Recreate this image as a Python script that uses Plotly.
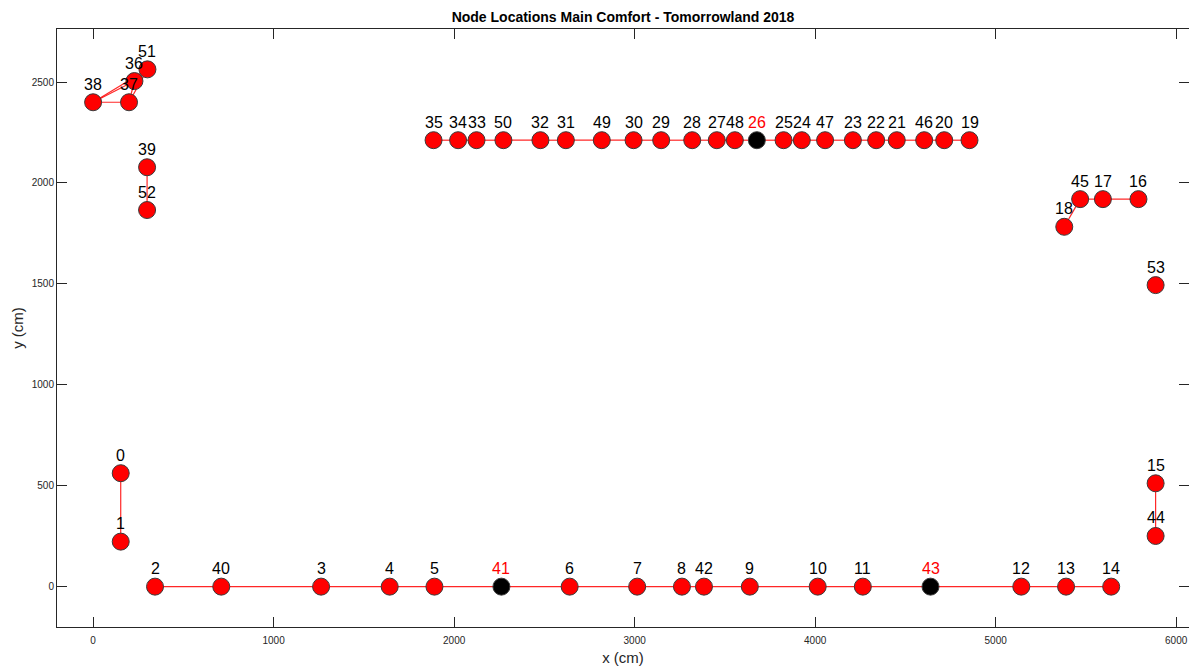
import plotly.graph_objects as go

# Node ids and their coordinates (cm)
node_ids = list(range(54))
node_x = [153, 153, 343, 1263, 1643, 1891, 2640, 3014, 3262, 3638,
          4014, 4264, 5142, 5390, 5640, 5886, 5791, 5594, 5380, 4855,
          4715, 4452, 4338, 4209, 3926, 3825, 3677, 3455, 3319, 3147,
          2994, 2619, 2478, 2124, 2022, 1886, 229, 199, 0, 299,
          710, 2262, 3384, 4639, 5886, 5468, 4604, 4055, 3555, 2818,
          2273, 301, 299, 5886]
node_y = [562, 223, 0, 0, 0, 0, 0, 0, 0, 0,
          0, 0, 0, 0, 0, 512, 1920, 1920, 1783, 2212,
          2212, 2212, 2212, 2212, 2212, 2212, 2212, 2212, 2212, 2212,
          2212, 2212, 2212, 2212, 2212, 2212, 2505, 2400, 2400, 2078,
          0, 0, 0, 0, 251, 1920, 2212, 2212, 2212, 2212,
          2212, 2563, 1866, 1494]

# special (black) nodes
special_nodes = [26, 41, 43]

# connections
bottom_chain = [2, 40, 3, 4, 5, 41, 6, 7, 8, 42, 9, 10, 11, 43, 12, 13, 14]
top_chain = [35, 34, 33, 50, 32, 31, 49, 30, 29, 28, 27, 48, 26, 25, 24, 47,
             23, 22, 21, 46, 20, 19]
extra_edges = [(0, 1), (15, 44), (39, 52), (18, 45), (45, 17), (17, 16),
               (38, 37), (38, 36), (38, 51), (37, 36), (37, 51), (36, 51)]

edges = [(a, b) for a, b in zip(bottom_chain[:-1], bottom_chain[1:])]
edges += [(a, b) for a, b in zip(top_chain[:-1], top_chain[1:])]
edges += extra_edges

ex, ey = [], []
for a, b in edges:
    ex += [node_x[a], node_x[b], None]
    ey += [node_y[a], node_y[b], None]

AX = '#262626'
FONT = 'Liberation Sans, Arial'
fig = go.Figure()
fig.add_trace(go.Scatter(x=ex, y=ey, mode='lines',
                         line=dict(color='rgba(255,0,0,0.85)', width=1.2),
                         hoverinfo='skip', showlegend=False))

colors = ['black' if n in special_nodes else 'red' for n in node_ids]
fig.add_trace(go.Scatter(x=node_x, y=node_y, mode='markers',
                         marker=dict(size=17, color=colors,
                                     line=dict(color='#3a3a3a', width=1)),
                         showlegend=False))

for n, xv, yv in zip(node_ids, node_x, node_y):
    fig.add_annotation(x=xv, y=yv, text=str(n), showarrow=False,
                       yshift=18, yanchor='middle', xanchor='center',
                       font=dict(family=FONT, size=16,
                                 color='red' if n in special_nodes else 'black'))

# right-side y ticks
fig.add_trace(go.Scatter(x=[None], y=[None], yaxis='y2', showlegend=False))

fig.update_layout(
    width=1189, height=666,
    margin=dict(l=57, r=0, t=29, b=39),
    paper_bgcolor='white', plot_bgcolor='white',
    title=dict(text='<b>Node Locations Main Comfort - Tomorrowland 2018</b>',
               x=0.524, xanchor='center', y=0.975, yanchor='middle',
               font=dict(family=FONT, size=14, color='black')),
    xaxis=dict(range=[-200, 6071], tickvals=[0, 1000, 2000, 3000, 4000, 5000, 6000],
               ticks='inside', ticklen=10, tickcolor=AX, tickwidth=1,
               showline=True, linecolor=AX, linewidth=1, mirror='ticks',
               showgrid=False, zeroline=False, ticklabelstandoff=4,
               tickfont=dict(family=FONT, size=10, color=AX),
               title=dict(text='x (cm)', standoff=8,
                          font=dict(family=FONT, size=15, color=AX))),
    yaxis=dict(range=[-200, 2763], tickvals=[0, 500, 1000, 1500, 2000, 2500],
               ticks='inside', ticklen=10, tickcolor=AX, tickwidth=1,
               showline=True, linecolor=AX, linewidth=1, mirror=False,
               showgrid=False, zeroline=False,
               tickfont=dict(family=FONT, size=10, color=AX),
               title=dict(text='y (cm)', standoff=4,
                          font=dict(family=FONT, size=15, color=AX))),
    yaxis2=dict(range=[-200, 2763], tickvals=[0, 500, 1000, 1500, 2000, 2500],
                overlaying='y', side='right', ticks='inside', ticklen=10,
                tickcolor=AX, showticklabels=False, showgrid=False,
                zeroline=False, showline=False),
)

fig.write_html('out.html')
